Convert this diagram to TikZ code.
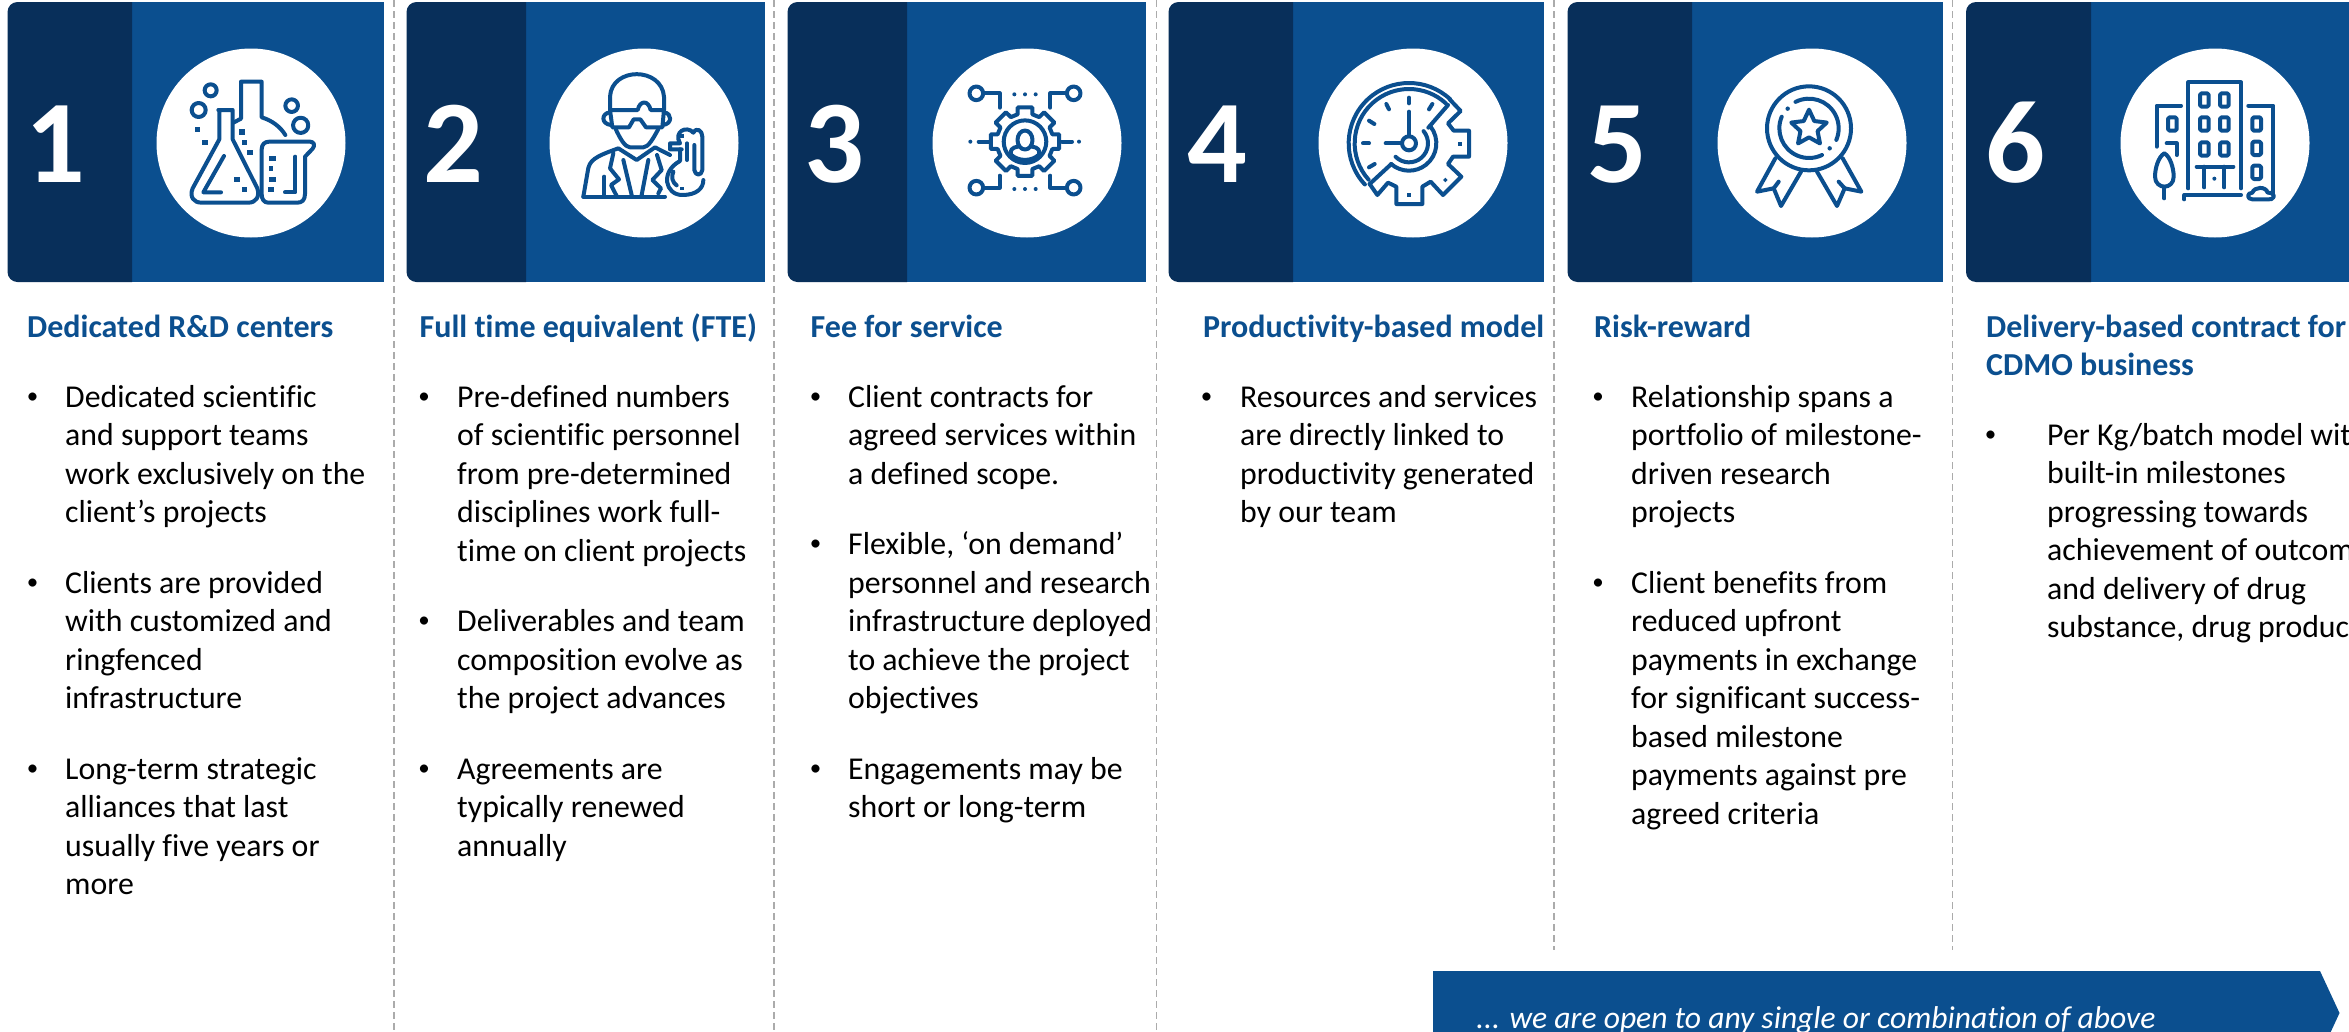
\documentclass[tikz,border=0pt]{standalone}
\usepackage{fontspec}
\setmainfont{Carlito}[Ligatures=NoCommon]
\definecolor{cdark}{HTML}{082F5A}
\definecolor{cblue}{HTML}{0B4F8F}
\definecolor{cdiv}{HTML}{ABABAB}
\newcommand\card[7]{% id,x,dark,right,cx,numx,digit
  \fill[cblue] (#3,2) rectangle (#4,282);
  \fill[cdark] (#3,2) [rounded corners=10pt] -- (#2,2) -- (#2,282) [sharp corners] -- (#3,282) -- cycle;
  \node[disc] (disc#1) at (#5,143) {};
  \node[numtext] (num#1) at (#6,182) {#7};
}
\newcommand\bp[5]{% name,bulletx,textx,baseline,lines
  \node[bullettext] (b#1) at (#2-0.5,#4-4) {•};
  \node[bodytext,anchor=north west,align=left] (t#1) at (#3,#4-26) {\rule{0pt}{26pt}#5};
}
\newcommand\darc[5]{\pgfmathsetmacro\arcstart{0-#3}\draw ([shift={(#1,#2)}]\arcstart:#5) arc[start angle=#3,end angle=#4,radius={#5 pt/3}];}
\tikzset{
  disc/.style={circle,fill=white,inner sep=0,minimum size=189pt},
  numtext/.style={anchor=base,text=white,inner sep=0,font=\fontsize{118}{118}\selectfont\bfseries},
  bodytext/.style={inner sep=0,text=black,font=\fontsize{31.8}{38.5}\selectfont},
  bullettext/.style={anchor=base,inner sep=0,text=black,font=\fontsize{23}{26}\selectfont},
  titletext/.style={inner sep=0,anchor=north west,align=left,text=cblue,font=\fontsize{32}{38.5}\selectfont\bfseries},
  divider/.style={draw=cdiv,line width=1.5pt,dash pattern=on 7pt off 4pt},
  icon/.style={x=0.33333pt,y=-0.33333pt,line width=4pt,draw=cblue,line join=round,line cap=round},
  sq/.style={fill=cblue},
}
\begin{document}
\begin{tikzpicture}[x=1pt,y=-1pt]
\path[use as bounding box] (0,0) rectangle (2349,1031);
\clip (0,0) rectangle (2349,1031);
\fill[white] (0,0) rectangle (2349,1031);

\draw[divider] (394,0) -- (394,1031);
\draw[divider] (774,0) -- (774,1031);
\draw[divider] (1156.5,0) -- (1156.5,1031);
\draw[divider] (1554,0) -- (1554,950);
\draw[divider] (1952.5,0) -- (1952.5,950);

\card{1}{7.5}{132}{384}{251}{55}{1}
\card{2}{406.5}{526}{765}{644}{453}{2}
\card{3}{787.5}{907}{1146}{1027}{834}{3}
\card{4}{1168.5}{1293}{1544}{1413}{1217}{4}
\card{5}{1567.5}{1692}{1943}{1812}{1617}{5}
\card{6}{1966}{2091}{2349}{2215}{2015.5}{6}

% icon 1: flasks
\begin{scope}[shift={(170,60)},icon]
\draw (190,188) -- (213,176) -- (213,65) -- (275,65) -- (275,172) .. controls (308,182) and (332,202) .. (346,225);
\draw (145,150) -- (188,150) -- (188,238) -- (262,385) .. controls (270,410) and (258,428) .. (235,428) -- (95,428) .. controls (70,428) and (58,410) .. (68,385) -- (148,238) -- (148,150);
\draw (162,288) -- (100,397) -- (153,397);
\draw (295,428) .. controls (282,428) and (275,418) .. (275,402) -- (275,268) .. controls (275,252) and (285,245) .. (298,245) -- (420,245) .. controls (432,245) and (436,256) .. (428,266) -- (405,290) -- (405,402) .. controls (405,420) and (396,428) .. (382,428) -- cycle;
\draw (376,290) -- (376,397) -- (345,397);
\draw (122,91) circle[radius=6pt];
\draw (86,150) circle[radius=7pt];
\draw (365,137) circle[radius=6.3pt];
\draw (392,196) circle[radius=7.6pt];
\fill[sq] (76,202) rectangle +(14,14);
\fill[sq] (97,240) rectangle +(16,16);
\fill[sq] (208,208) rectangle +(16,16);
\fill[sq] (217,241) rectangle +(14,14);
\fill[sq] (232,270) rectangle +(16,16);
\fill[sq] (193,351) rectangle +(16,16);
\fill[sq] (217,382) rectangle +(14,14);
\fill[sq] (296,288) rectangle +(22,14);
\fill[sq] (296,319) rectangle +(14,14);
\fill[sq] (298,351) rectangle +(20,15);
\fill[sq] (294,381) rectangle +(18,16);
\end{scope}

% icon 2: scientist
\begin{scope}[shift={(565,60)},icon]
\draw (135,150) -- (135,110) .. controls (140,20) and (290,20) .. (297,110) -- (297,150);
\draw (152,207) .. controls (165,235) and (180,262) .. (195,262) -- (235,262) .. controls (250,262) and (265,235) .. (280,207);
\draw (135,150) -- (218,150) .. controls (225,120) and (250,120) .. (257,150) -- (297,150) -- (292,202) -- (243,202) -- (226,178) -- (206,178) -- (192,202) -- (142,202) -- cycle;
\draw (135,157) .. controls (108,160) and (108,192) .. (138,195);
\draw (297,157) .. controls (322,160) and (322,192) .. (294,195);
\draw (55,410) -- (300,410);
\draw (55,410) -- (68,335) .. controls (72,300) and (90,290) .. (160,265) -- (215,300) -- (270,262) -- (315,285);
\draw (145,280) -- (135,325) -- (162,358) -- (138,375) -- (155,408);
\draw (276,285) -- (290,330) -- (262,360) -- (288,385) -- (280,400);
\draw (175,300) -- (200,405);
\draw (250,300) -- (230,405);
\draw (118,350) -- (118,405);
\draw (345,268) -- (345,303) .. controls (285,335) and (300,405) .. (352,405) .. controls (395,405) and (415,385) .. (415,360);
\draw (350,268) -- (315,268) -- (315,250) -- (345,250) .. controls (325,215) and (365,195) .. (385,218) .. controls (395,200) and (412,212) .. (412,230) -- (412,330) .. controls (410,348) and (390,348) .. (388,330) -- (388,255);
\draw (366,250) -- (366,300);
\draw (325,335) .. controls (318,350) and (322,368) .. (335,376);
\fill[sq] (346,222) rectangle +(12,12);
\fill[sq] (344,380) rectangle +(12,10);
\end{scope}

% icon 3: gear and person
\begin{scope}[shift={(947,60)},icon]
\draw[shift={(234,245)}] (-15:85) foreach \a in {0,45,...,315}{ -- (\a-15:85) -- (\a-12:105) -- (\a+12:105) -- (\a+15:85) } -- cycle;
\draw (234,245) circle[radius=21.3pt];
\draw (234,240) ellipse[x radius=7.5pt,y radius=9.5pt];
\draw (212,260) .. controls (195,262) and (188,272) .. (192,284) .. controls (215,305) and (253,305) .. (276,284) .. controls (280,272) and (273,262) .. (256,260);
\draw (88,100) circle[radius=6.8pt];
\draw (108,100) -- (158,100) -- (158,143);
\draw (380,100) circle[radius=6.8pt];
\draw (360,100) -- (310,100) -- (310,143);
\draw (88,383) circle[radius=6.8pt];
\draw (108,383) -- (158,383) -- (158,347);
\draw (380,383) circle[radius=6.8pt];
\draw (360,383) -- (310,383) -- (310,347);
\draw (95,245) -- (125,245);
\draw (345,245) -- (375,245);
\foreach \px/\py in {202/103,234/103,266/103,202/387,234/387,266/387,70/245,396/245}
  \fill[sq] (\px,\py) circle[radius=2pt];
\end{scope}

% icon 4: clock in gear
\begin{scope}[shift={(1333,60)},icon]
\darc{228}{250}{223}{47}{181}
\darc{228}{250}{222}{47}{163}
\draw (110,372) -- (133,405) -- (165,368) -- (190,380) -- (190,432) -- (268,432) -- (268,380) -- (293,365) -- (330,405) -- (385,350) -- (345,312) -- (360,290) -- (408,290) -- (408,212) -- (362,212) -- (345,190) -- (383,153) -- (350,118);
\draw (345,135) -- (286,203);
\darc{228}{250}{38}{-131}{82}
\draw (175,312) -- (110,372);
\darc{228}{250}{40}{-135}{57}
\draw (228,155) -- (228,228);
\draw (158,250) -- (207,250);
\draw (228,250) circle[radius=7pt];
\draw (228,113) -- (228,130);
\draw (160,132) -- (168,148);
\draw (108,182) -- (124,192);
\draw (90,250) -- (108,250);
\draw (108,322) -- (125,312);
\draw (298,132) -- (288,148);
\fill[sq] (375,246) rectangle +(12,12);
\fill[sq] (222,399) rectangle +(12,12);
\fill[sq] (337,353) -- (344,360) -- (337,367) -- (330,360) -- cycle;
\end{scope}

% icon 5: medal
\begin{scope}[shift={(1732,60)},icon]
\draw (231,205) circle[radius=42pt];
\darc{231}{205}{117}{-23}{89}
\darc{231}{205}{157}{296}{89}
\draw[shift={(231,205)}] (-90:56) foreach \i in {0,...,4}{ -- (-90+72*\i:56) -- (-54+72*\i:27) } -- cycle;
\draw (130,295) -- (75,395) -- (125,385) -- (147,438) -- (207,335);
\draw (125,385) -- (140,365);
\draw (332,295) -- (388,395) -- (338,385) -- (315,438) -- (255,335);
\draw (338,385) -- (320,365);
\fill[sq] (167,146) circle[radius=2.2pt];
\fill[sq] (293,265) circle[radius=2.2pt];
\end{scope}

% icon 6: buildings
\begin{scope}[shift={(2135,60)},icon]
\draw (160,385) -- (160,67) -- (318,67) -- (318,385);
\draw (65,260) -- (65,137) -- (138,137);
\draw (340,137) -- (415,137) -- (415,400);
\draw (148,418) -- (148,405) -- (318,405);
\foreach \wx/\wy in {208/120,268/120,208/192,268/192,208/267,268/267,112/192,365/192,365/265,365/337}
  \draw[rounded corners=1.5pt] (\wx-13,\wy-20) rectangle (\wx+13,\wy+20);
\draw (95,250) -- (125,250) -- (125,285);
\draw (185,320) -- (295,320);
\draw (208,320) -- (208,382);
\draw (268,320) -- (268,382);
\fill[sq] (238,356) circle[radius=2pt];
\draw (88,415) -- (88,380);
\draw (88,280) .. controls (70,290) and (60,325) .. (60,350) .. controls (60,370) and (75,380) .. (88,380) .. controls (102,380) and (116,370) .. (116,350) .. controls (116,325) and (106,290) .. (88,280) -- cycle;
\draw (352,418) .. controls (335,418) and (335,398) .. (352,398) .. controls (358,380) and (392,378) .. (398,398) .. controls (412,396) and (420,408) .. (415,412) .. controls (412,418) and (408,418) .. (400,418) -- cycle;
\end{scope}

% column 1
\node[titletext] (title1) at (27,337-26) {\rule{0pt}{26pt}Dedicated R\&D centers};
\bp{1a}{33}{65}{407}{Dedicated scientific\\and support teams\\work exclusively on the\\client’s projects}
\bp{1b}{33}{65}{593}{Clients are provided\\with customized and\\ringfenced\\infrastructure}
\bp{1c}{33}{65}{779}{Long-term strategic\\alliances that last\\usually five years or\\more}
% column 2
\node[titletext] (title2) at (419.5,337-26) {\rule{0pt}{26pt}Full time equivalent (FTE)};
\bp{2a}{424.5}{457}{407}{Pre-defined numbers\\of scientific personnel\\from pre-determined\\disciplines work full-\\time on client projects}
\bp{2b}{424.5}{457}{631.5}{Deliverables and team\\composition evolve as\\the project advances}
\bp{2c}{424.5}{457}{779}{Agreements are\\typically renewed\\annually}
% column 3
\node[titletext] (title3) at (810.5,337-26) {\rule{0pt}{26pt}Fee for service};
\bp{3a}{816}{848}{407}{Client contracts for\\agreed services within\\a defined scope.}
\bp{3b}{816}{848}{554.5}{Flexible, ‘on demand’\\personnel and research\\infrastructure deployed\\to achieve the project\\objectives}
\bp{3c}{816}{848}{779}{Engagements may be\\short or long-term}
% column 4
\node[titletext] (title4) at (1203,337-26) {\rule{0pt}{26pt}Productivity-based model};
\bp{4a}{1207}{1240}{407}{Resources and services\\are directly linked to\\productivity generated\\by our team}
% column 5
\node[titletext] (title5) at (1594,337-26) {\rule{0pt}{26pt}Risk-reward};
\bp{5a}{1598.5}{1631}{407}{Relationship spans a\\portfolio of milestone-\\driven research\\projects}
\bp{5b}{1598.5}{1631}{593}{Client benefits from\\reduced upfront\\payments in exchange\\for significant success-\\based milestone\\payments against pre\\agreed criteria}
% column 6
\node[titletext] (title6) at (1986,337-26) {\rule{0pt}{26pt}Delivery-based contract for\\CDMO business};
\bp{6a}{1991}{2047}{445}{Per Kg/batch model with\\built-in milestones\\progressing towards\\achievement of outcomes\\and delivery of drug\\substance, drug product}

% banner
\fill[cblue] (1433,971) -- (2320,971) -- (2339.5,1013) -- (2320,1055) -- (1433,1055) -- cycle;
\node[anchor=base west,inner sep=0,text=white,font=\fontsize{31.6}{36}\selectfont\itshape] (banner) at (1476,1028) {... we are open to any single or combination of above};
\end{tikzpicture}
\end{document}
